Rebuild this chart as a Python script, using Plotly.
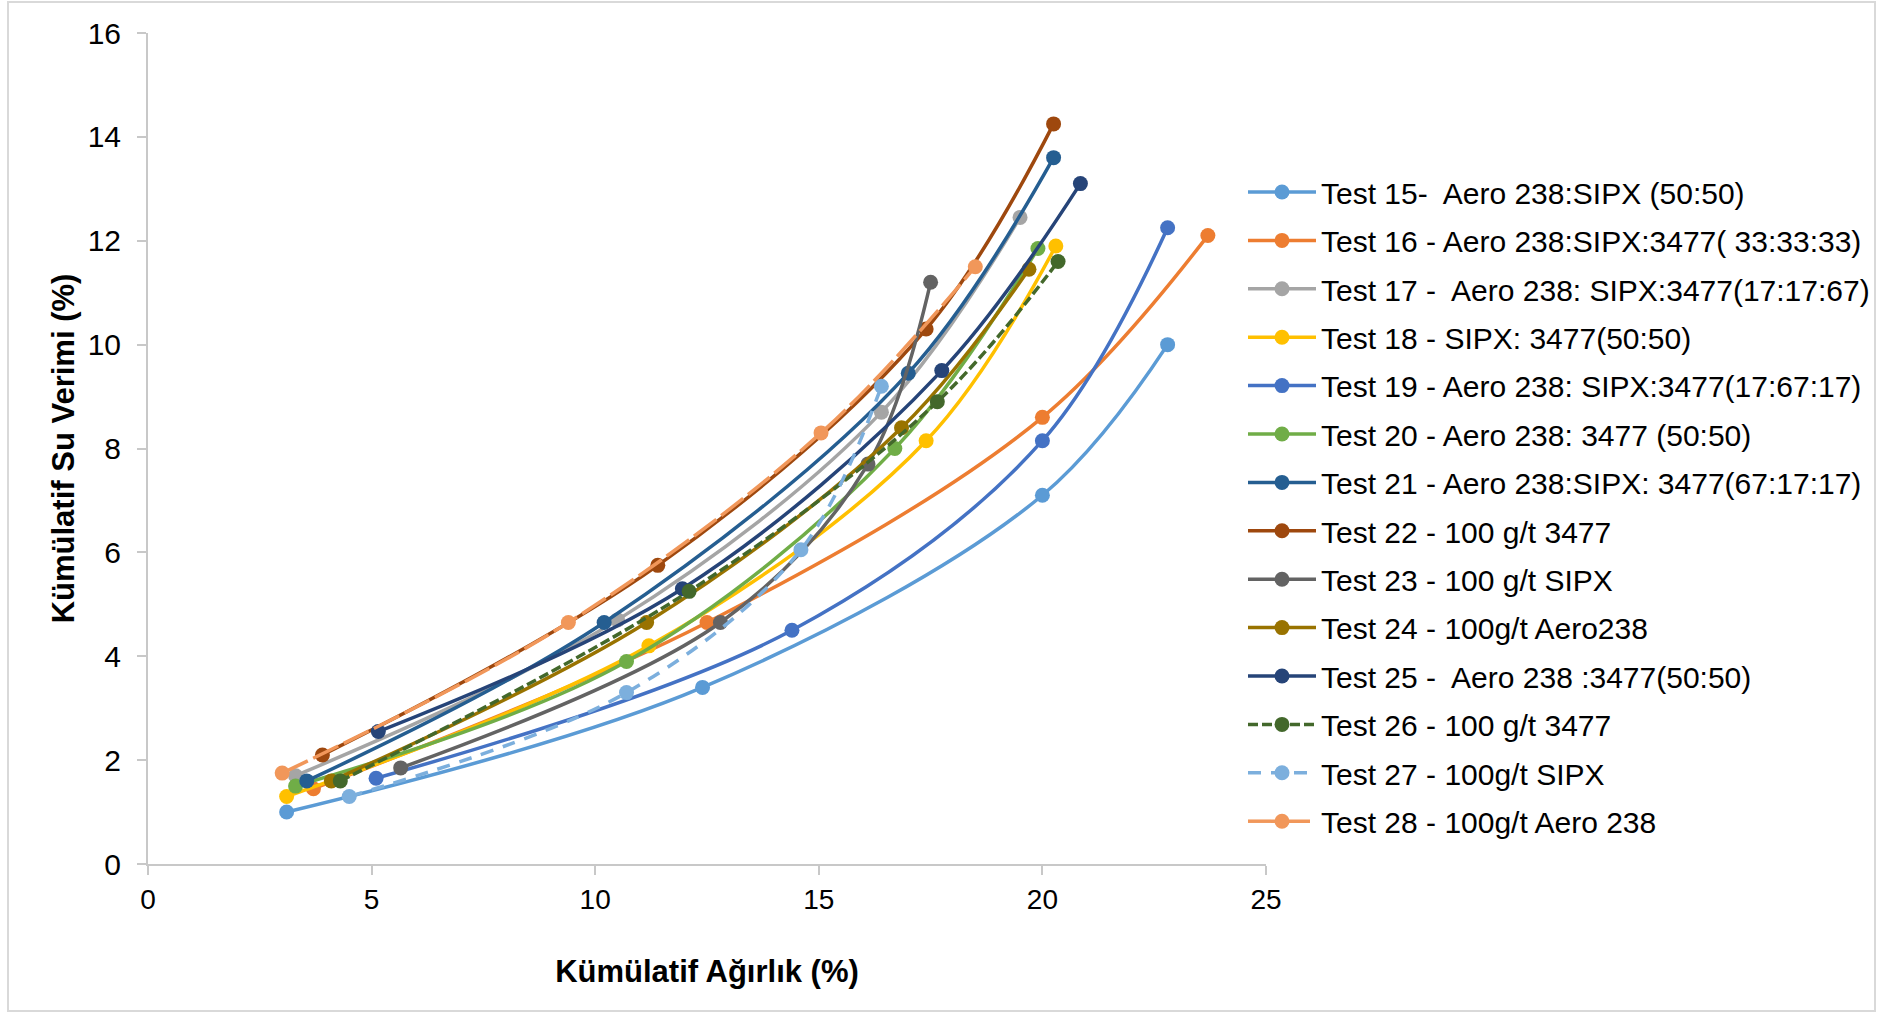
import plotly.graph_objects as go

# Cumulative weight (%) and cumulative water yield (%) per flotation test
names = [
    "Test 15-  Aero 238:SIPX (50:50)",
    "Test 16 - Aero 238:SIPX:3477( 33:33:33)",
    "Test 17 -  Aero 238: SIPX:3477(17:17:67)",
    "Test 18 - SIPX: 3477(50:50)",
    "Test 19 - Aero 238: SIPX:3477(17:67:17)",
    "Test 20 - Aero 238: 3477 (50:50)",
    "Test 21 - Aero 238:SIPX: 3477(67:17:17)",
    "Test 22 - 100 g/t 3477",
    "Test 23 - 100 g/t SIPX",
    "Test 24 - 100g/t Aero238",
    "Test 25 -  Aero 238 :3477(50:50)",
    "Test 26 - 100 g/t 3477",
    "Test 27 - 100g/t SIPX",
    "Test 28 - 100g/t Aero 238",
]

x15 = [3.1, 12.4, 20.0, 22.8]
y15 = [1.0, 3.4, 7.1, 10.0]
x16 = [3.7, 12.5, 20.0, 23.7]
y16 = [1.45, 4.65, 8.6, 12.1]
x17 = [3.3, 10.5, 16.4, 19.5]
y17 = [1.7, 4.7, 8.7, 12.45]
x18 = [3.1, 11.2, 17.4, 20.3]
y18 = [1.3, 4.2, 8.15, 11.9]
x19 = [5.1, 14.4, 20.0, 22.8]
y19 = [1.65, 4.5, 8.15, 12.25]
x20 = [3.3, 10.7, 16.7, 19.9]
y20 = [1.5, 3.9, 8.0, 11.85]
x21 = [3.55, 10.2, 17.0, 20.25]
y21 = [1.6, 4.65, 9.45, 13.6]
x22 = [3.9, 11.4, 17.4, 20.25]
y22 = [2.1, 5.75, 10.3, 14.25]
x23 = [5.65, 12.8, 16.1, 17.5]
y23 = [1.85, 4.65, 7.7, 11.2]
x24 = [4.1, 11.15, 16.85, 19.7]
y24 = [1.6, 4.65, 8.4, 11.45]
x25 = [5.15, 11.95, 17.75, 20.85]
y25 = [2.55, 5.3, 9.5, 13.1]
x26 = [4.3, 12.1, 17.65, 20.35]
y26 = [1.6, 5.25, 8.9, 11.6]
x27 = [4.5, 10.7, 14.6, 16.4]
y27 = [1.3, 3.3, 6.05, 9.2]
x28 = [3.0, 9.4, 15.05, 18.5]
y28 = [1.75, 4.65, 8.3, 11.5]

xs = [x15, x16, x17, x18, x19, x20, x21, x22, x23, x24, x25, x26, x27, x28]
ys = [y15, y16, y17, y18, y19, y20, y21, y22, y23, y24, y25, y26, y27, y28]

colors = ["#5B9BD5", "#ED7D31", "#A5A5A5", "#FFC000", "#4472C4", "#70AD47",
          "#255E91", "#9E480E", "#636363", "#997300", "#264478", "#43682B",
          "#7CAFDD", "#F1975A"]
dashes = ["solid"] * 11 + ["10px,4px", "13px,10px", "28px,6px"]

x_ticks = [0, 5, 10, 15, 20, 25]
y_ticks = [0, 2, 4, 6, 8, 10, 12, 14, 16]

W, H = 1885, 1013
L, R, T, B = 148, 1266, 33, 864

fig = go.Figure()
for i, (nm, xv, yv) in enumerate(zip(names, xs, ys)):
    fig.add_trace(go.Scatter(
        x=xv, y=yv, name=nm, mode="lines+markers",
        line=dict(color=colors[i], width=3.5, dash=dashes[i], shape="spline", smoothing=1),
        marker=dict(color=colors[i], size=15),
        legendgroup=f"g{i}",
    ))

axis_col = "#C8C8C8"
sans = "Liberation Sans, Arial, sans-serif"

fig.update_layout(
    width=W, height=H,
    margin=dict(l=L, r=W - R, t=T, b=H - B, autoexpand=False),
    paper_bgcolor="white", plot_bgcolor="white",
    showlegend=True,
    legend=dict(
        x=(1243 - L) / (R - L), xanchor="left",
        y=(B - 166) / (B - T), yanchor="top",
        font=dict(family=sans, size=30, color="#000000"),
        itemwidth=68, tracegroupgap=6.4,
        bgcolor="rgba(0,0,0,0)",
    ),
    xaxis=dict(
        range=[0, 25], tickvals=x_ticks, ticktext=[str(v) for v in x_ticks],
        showline=True, linecolor=axis_col, linewidth=2,
        ticks="outside", ticklen=9, tickwidth=2, tickcolor=axis_col,
        showgrid=False, zeroline=False,
        tickfont=dict(family=sans, size=28, color="#000000"),
        title=dict(text="<b>Kümülatif Ağırlık (%)</b>",
                   font=dict(family=sans, size=31, color="#000000"), standoff=47),
    ),
    yaxis=dict(
        range=[0, 16], tickvals=y_ticks, ticktext=[str(v) for v in y_ticks],
        showline=True, linecolor=axis_col, linewidth=2,
        ticks="outside", ticklen=9, tickwidth=2, tickcolor=axis_col,
        showgrid=False, zeroline=False,
        tickfont=dict(family=sans, size=30, color="#000000"),
        ticklabelstandoff=10,
        title=dict(text="<b>Kümülatif Su Verimi (%)</b>",
                   font=dict(family=sans, size=31, color="#000000"), standoff=4),
    ),
    shapes=[dict(
        type="rect", xref="paper", yref="paper", layer="below",
        x0=(8 - L) / (R - L), x1=(1875 - L) / (R - L),
        y0=(B - 1011) / (B - T), y1=(B - 2) / (B - T),
        line=dict(color="#D9D9D9", width=2), fillcolor="rgba(0,0,0,0)",
    )],
)

fig.write_html("out.html")
